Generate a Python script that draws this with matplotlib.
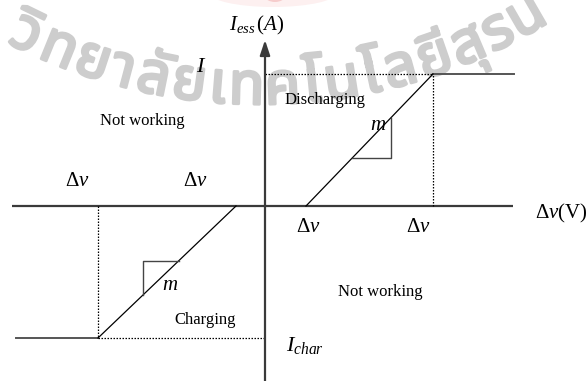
import numpy as np
import matplotlib
matplotlib.use("Agg")
import matplotlib.pyplot as plt
import matplotlib.patheffects as pe
from matplotlib.patches import Ellipse

plt.rcParams['font.family'] = 'Liberation Serif'
plt.rcParams['mathtext.fontset'] = 'custom'
plt.rcParams['mathtext.rm'] = 'Liberation Serif'
plt.rcParams['mathtext.it'] = 'Liberation Serif:italic'

# breakpoints of the ESS current vs. voltage deviation characteristic
dv_char_full = -167   # full charging current reached
dv_char_zero = -29    # charging starts
dv_dis_zero = 41      # discharging starts
dv_dis_full = 168     # full discharging current reached
dv_ends = [-249, 249]
i_dis = 132
i_char = -132

dv_curve = [dv_ends[0], dv_char_full, dv_char_zero, dv_dis_zero, dv_dis_full, dv_ends[1]]
i_curve = [i_char, i_char, 0, 0, i_dis, i_dis]

# corners of the little slope triangles
slope_corner_dis = (126, 48)
slope_corner_char = (-122, -55)

# university watermark, split into glyph clusters, with their advance widths
wm_text = ["วิ", "ท", "ย", "า", "ลั", "ย", "เ", "ท", "ค", "โ", "น", "โ", "ล", "ยี", "สุ", "ร", "น"]
wm_adv = [33, 33, 33, 25, 33, 33, 20, 33, 33, 22, 33, 22, 33, 33, 33, 27, 33]
thai_fonts = ['Noto Sans Thai', 'Noto Sans Thai UI', 'Noto Serif Thai', 'Noto Looped Thai',
              'Loma', 'Garuda', 'Norasi', 'Kinnari', 'Laksaman', 'Tlwg Typo', 'Umpush',
              'Sawasdee', 'Waree', 'Purisa', 'FreeSans', 'Arial Unicode MS', 'DejaVu Sans']

fig = plt.figure(figsize=(5.87, 3.81), dpi=100)
ax = fig.add_axes([0, 0, 1, 1])
ax.set_xlim(-265, 322)
ax.set_ylim(-175, 206)
ax.axis('off')

# faint logo at the top edge
ax.add_patch(Ellipse((8, 214), 130, 30, facecolor='#fdf0f0', edgecolor='none', zorder=0))
ax.add_patch(Ellipse((10, 210), 20, 12, facecolor='#f6cccc', edgecolor='none', zorder=0))

# watermark along an arc (circle centre and radius in the same units as the plot)
wm_cx, wm_cy, wm_r = -5, 651, 549
th0 = np.arcsin((-262 - wm_cx) / wm_r)
s = 0.0
for txt, w in zip(wm_text, wm_adv):
    w = w * 1.12
    th = th0 + (s + w / 2) / wm_r
    s += w
    x = wm_cx + wm_r * np.sin(th)
    y = wm_cy - wm_r * np.cos(th)
    ax.text(x, y, txt, fontsize=42, color='#cdcdcd', family=thai_fonts,
            ha='center', va='baseline', rotation=np.degrees(th),
            rotation_mode='anchor', zorder=0,
            path_effects=[pe.withStroke(linewidth=2.2, foreground='#cdcdcd')])

axis_col = '#3a3a3a'
# horizontal axis
ax.plot([-253, 248], [0, 0], color=axis_col, lw=1.6, solid_capstyle='butt')
# vertical axis with arrow
ax.annotate('', xy=(0, 166), xytext=(0, -175),
            arrowprops=dict(arrowstyle='-|>,head_length=0.6,head_width=0.2',
                            lw=1.6, color=axis_col, mutation_scale=15,
                            shrinkA=0, shrinkB=0))

# saturated parts
ax.plot(dv_curve[0:2], i_curve[0:2], color='#555555', lw=1.4)
ax.plot(dv_curve[4:6], i_curve[4:6], color='#555555', lw=1.4)
# linear parts
ax.plot(dv_curve[1:3], i_curve[1:3], color='black', lw=0.9)
ax.plot(dv_curve[3:5], i_curve[3:5], color='black', lw=0.9)

# dotted guides
dot = dict(color='black', lw=0.9, ls=(0, (1.2, 1.2)))
ax.plot([0, dv_dis_full], [i_dis, i_dis], **dot)
ax.plot([dv_dis_full, dv_dis_full], [0, i_dis], **dot)
ax.plot([dv_char_full, 0], [i_char, i_char], **dot)
ax.plot([dv_char_full, dv_char_full], [0, i_char], **dot)

# slope triangles
k_dis = i_dis / (dv_dis_full - dv_dis_zero)
k_char = i_char / (dv_char_full - dv_char_zero)
cxd, cyd = slope_corner_dis
ax.plot([dv_dis_zero + cyd / k_dis, cxd, cxd], [cyd, cyd, k_dis * (cxd - dv_dis_zero)],
        color='#444444', lw=1.0)
cxc, cyc = slope_corner_char
ax.plot([dv_char_zero + cyc / k_char, cxc, cxc], [cyc, cyc, k_char * (cxc - dv_char_zero)],
        color='#444444', lw=1.0)

# labels
ax.text(-8, 181, r'$I_{ess}\,(A)$', fontsize=15, ha='center', va='center')
ax.text(-64, 138, r'$I$', fontsize=16, ha='center', va='center')
ax.text(40, -139, r'$I_{char}$', fontsize=16, ha='center', va='center')
ax.text(-123, 85, 'Not working', fontsize=12, ha='center', va='center')
ax.text(115, -86, 'Not working', fontsize=12, ha='center', va='center')
ax.text(60, 106, 'Discharging', fontsize=12, ha='center', va='center')
ax.text(-60, -114, 'Charging', fontsize=12, ha='center', va='center')
ax.text(113, 80, r'$m$', fontsize=15, ha='center', va='center')
ax.text(-95, -79, r'$m$', fontsize=15, ha='center', va='center')
for x, y in [(-188, 24), (-70, 24), (43, -21), (153, -21)]:
    ax.text(x, y, r'$\Delta v$', fontsize=15, ha='center', va='center')
ax.text(296, -7, r'$\Delta v$(V)', fontsize=15, ha='center', va='center')

fig.savefig('out.png', dpi=100)
